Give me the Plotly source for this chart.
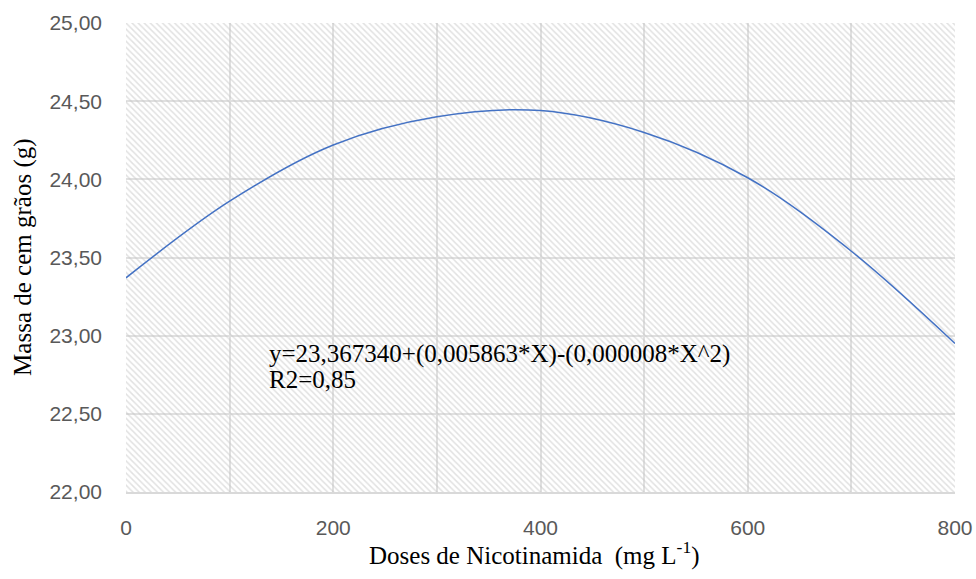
import plotly.graph_objects as go

# Data
doses = [0, 100, 200, 300, 400, 500, 600, 700, 800]
massa = [23.37, 23.86, 24.22, 24.40, 24.44, 24.30, 24.01, 23.54, 22.95]

x_range = [0, 800]
y_range = [22, 25]
x_ticks = [0, 200, 400, 600, 800]
y_ticks = [22.0, 22.5, 23.0, 23.5, 24.0, 24.5, 25.0]
equation_line = "y=23,367340+(0,005863*X)-(0,000008*X^2)"
r2_line = "R2=0,85"
x_title = "Doses de Nicotinamida  (mg L<sup>-1</sup>)"
y_title = "Massa de cem grãos (g)"

fig = go.Figure()

# hatched plot-area background
fig.add_trace(go.Scatter(
    x=[x_range[0], x_range[1], x_range[1], x_range[0], x_range[0]],
    y=[y_range[0], y_range[0], y_range[1], y_range[1], y_range[0]],
    fill="toself", mode="none", fillcolor="rgba(0,0,0,0)",
    fillpattern=dict(shape="\\", fgcolor="#c4c4c4", bgcolor="rgba(0,0,0,0)",
                     size=4.3, solidity=0.35),
    hoverinfo="skip", showlegend=False,
))

fig.add_trace(go.Scatter(
    x=doses, y=massa, mode="lines",
    line=dict(color="#4472C4", width=1.5, shape="spline", smoothing=1.0),
    showlegend=False,
))

serif = dict(family="Liberation Serif", size=25, color="black")
fig.add_annotation(x=136, y=22.88, xref="x", yref="y", xanchor="left",
                   yanchor="middle", text=equation_line, showarrow=False,
                   font=serif)
fig.add_annotation(x=136, y=22.72, xref="x", yref="y", xanchor="left",
                   yanchor="middle", text=r2_line, showarrow=False,
                   font=serif)

# axis titles
fig.add_annotation(x=0.4916, y=-0.132, xref="paper", yref="paper",
                   xanchor="center", yanchor="middle", text=x_title,
                   showarrow=False, font=dict(family="Liberation Serif", size=25, color="black"))
fig.add_annotation(x=-0.125, y=0.5, xref="paper", yref="paper",
                   xanchor="center", yanchor="middle", text=y_title, textangle=-90,
                   showarrow=False, font=dict(family="Liberation Serif", size=25, color="black"))

grid_c = "#e0e0e0"
fig.update_layout(
    width=976, height=579,
    margin=dict(l=126, r=21, t=23, b=87),
    paper_bgcolor="white", plot_bgcolor="white",
    separators=",.",
    xaxis=dict(
        range=x_range, tickvals=x_ticks, tickformat="d", automargin=False,
        showgrid=True, gridcolor=grid_c, gridwidth=2,
        minor=dict(dtick=100, showgrid=True, gridcolor=grid_c, gridwidth=2),
        showline=True, linecolor="#d9d9d9", linewidth=2,
        zeroline=False, ticks="", ticklabelstandoff=16,
        tickfont=dict(family="Liberation Sans", size=21, color="#595959"),
    ),
    yaxis=dict(
        range=y_range, tickvals=y_ticks, tickformat=".2f", automargin=False,
        showgrid=True, gridcolor=grid_c, gridwidth=2,
        zeroline=False, ticks="", showline=False, ticklabelstandoff=23,
        tickfont=dict(family="Liberation Sans", size=21, color="#595959"),
    ),
)

# remove the default page margin so the figure fills the window exactly
fig.write_html(
    "out.html",
    config={"displayModeBar": False},
    post_script="document.body.style.margin='0';document.body.style.overflow='hidden';",
)
